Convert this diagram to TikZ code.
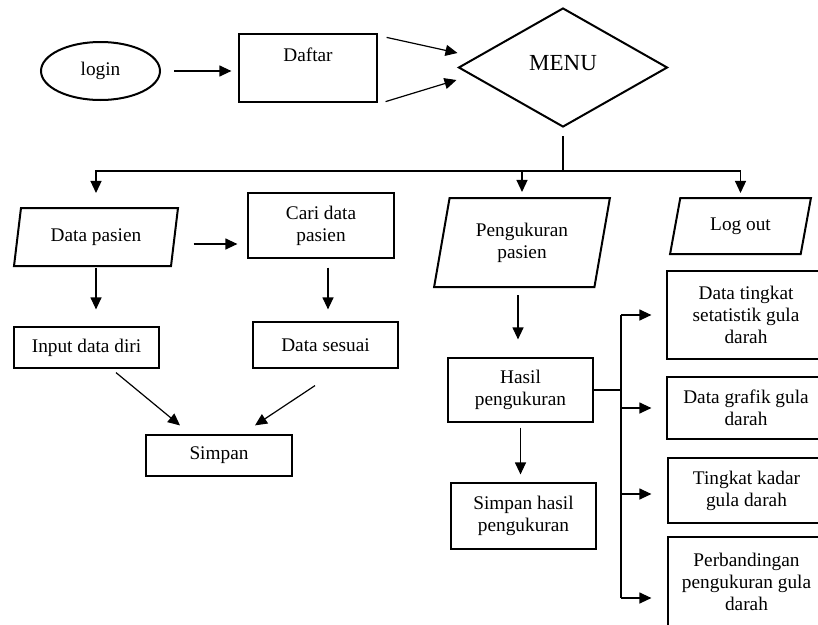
\documentclass[tikz,border=0pt]{standalone}
\usepackage{fontspec}
\setmainfont{Liberation Serif}
\usetikzlibrary{shapes.geometric,arrows.meta,calc}
\newcommand\txtfont{\fontsize{19.3}{22}\selectfont}
\newcommand\menufont{\fontsize{23}{26}\selectfont}
\begin{document}
\begin{tikzpicture}[x=1pt,y=1pt,
  thinline/.style={line width=1.2pt},
  thickline/.style={line width=2pt},
  box/.style={draw, thinline, rectangle, inner sep=0pt, align=center, font=\txtfont},
  para/.style={draw, thickline, trapezium, trapezium stretches=true, inner sep=0pt, align=center, font=\txtfont},
  arr/.style={thinline, -{Triangle[length=12pt,width=11pt]}},
  conn/.style={thinline}
]
\useasboundingbox (0,0) rectangle (818,-624);
\clip (0,0) rectangle (818,-624);

% nodes
\node[draw, thickline, ellipse, minimum width=119pt, minimum height=58pt, inner sep=0pt, font=\txtfont] (login) at (100.5,-71) {login};
\node[box, minimum width=138pt, minimum height=68pt, text height=13pt, text depth=26pt] (daftar) at (308,-68) {Daftar};
\node[draw, thickline, diamond, aspect=1.76, minimum width=209pt, minimum height=119pt, inner sep=0pt, font=\menufont, text height=16pt, text depth=9.8pt] (menu) at (563,-67.5) {MENU};

\node[para, trapezium left angle=76, trapezium right angle=104, minimum width=164pt, minimum height=58pt] (pasien) at (96,-237) {Data pasien};
\node[box, minimum width=146pt, minimum height=65pt] (cari) at (321,-225.5) {Cari data\\pasien};
\node[box, minimum width=145pt, minimum height=41pt] (input) at (86.5,-347.5) {Input data diri};
\node[box, minimum width=145pt, minimum height=46pt] (sesuai) at (325.5,-345) {Data sesuai};
\node[box, minimum width=146pt, minimum height=41pt] (simpan) at (219,-455.5) {Simpan};

\node[para, trapezium left angle=76, trapezium right angle=104, minimum width=176pt, minimum height=89pt] (ukur) at (522,-242.5) {Pengukuran\\pasien};
\node[para, trapezium left angle=73, trapezium right angle=107, minimum width=141pt, minimum height=56pt] (logout) at (740.5,-226) {Log out};
\node[box, minimum width=145pt, minimum height=64pt] (hasil) at (520.5,-390) {Hasil\\pengukuran};
\node[box, minimum width=145pt, minimum height=66pt] (simhasil) at (523.5,-516) {Simpan hasil\\pengukuran};

\node[box, minimum width=158pt, minimum height=88pt] (r1) at (746,-315) {Data tingkat\\setatistik gula\\darah};
\node[box, minimum width=158pt, minimum height=62pt] (r2) at (746,-408) {Data grafik gula\\darah};
\node[box, minimum width=157pt, minimum height=65pt] (r3) at (746.5,-490.5) {Tingkat kadar\\gula darah};
\node[box, minimum width=157pt, minimum height=89pt] (r4) at (746.5,-581.5) {Perbandingan\\pengukuran gula\\darah};

% top row connectors
\draw[arr, shorten <=13pt, shorten >=7pt] (login.east) -- (login.east -| daftar.west);
\draw[arr] ([shift={(9pt,-4pt)}]daftar.north east) -- ([shift={(0pt,14.5pt)}]menu.west);
\draw[arr] ([shift={(8pt,1pt)}]daftar.south east) -- ([shift={(-1pt,-12.5pt)}]menu.west);

% menu bus
\coordinate (bus) at (563,-171);
\draw[conn] ([yshift=-8pt]menu.south) -- (bus);
\draw[arr, shorten >=14pt] (bus) -| (pasien.north);
\draw[arr, shorten >=5pt] (bus) -| (ukur.north);
\draw[arr, shorten >=4pt] (bus) -| (logout.north);

% left branch
\draw[arr, shorten >=10pt] ([shift={(18pt,-7pt)}]pasien.east) -- ([yshift=-7pt]pasien.east -| cari.west);
\draw[arr, shorten <=1pt, shorten >=17pt] (pasien.south) -- (pasien.south |- input.north);
\draw[arr, shorten <=9pt, shorten >=12pt] ([xshift=7pt]cari.south) -- ([xshift=7pt]cari.south |- sesuai.north);
\draw[arr] ([shift={(29.5pt,-4pt)}]input.south) -- ([shift={(-39pt,9pt)}]simpan.north);
\draw[arr] ([shift={(-10.5pt,-17pt)}]sesuai.south) -- ([shift={(36pt,9pt)}]simpan.north);

% right branch
\draw[arr, shorten <=7pt, shorten >=18pt] ([xshift=-4pt]ukur.south) -- ([xshift=-4pt]ukur.south |- hasil.north);
\draw[arr, shorten <=5pt, shorten >=8pt] (hasil.south) -- (hasil.south |- simhasil.north);

\coordinate (vbus) at (621,-390);
\coordinate (r4in) at ([yshift=-16.5pt]r4.west);
\draw[conn] (hasil.east) -- (vbus);
\draw[conn] (vbus |- r1.west) -- (vbus |- r4in);
\draw[arr, shorten >=15pt] (vbus |- r1.west) -- (r1.west);
\draw[arr, shorten >=15pt] (vbus |- r2.west) -- (r2.west);
\draw[arr, shorten >=16pt] ([yshift=-3.5pt]vbus |- r3.west) -- ([yshift=-3.5pt]r3.west);
\draw[arr, shorten >=16pt] (vbus |- r4in) -- (r4in);
\end{tikzpicture}
\end{document}
